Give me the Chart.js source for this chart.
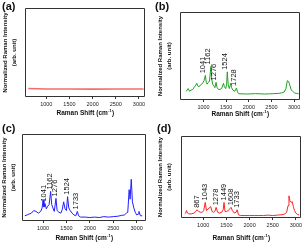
<!DOCTYPE html>
<html><head><meta charset="utf-8">
<script src="https://cdn.jsdelivr.net/npm/chart.js@4"></script>
<style>
body{margin:0;background:#fff;width:306px;height:243px;overflow:hidden;position:relative}
canvas{position:absolute}
</style></head><body>
<canvas id="ca" width="153" height="121" style="left:0;top:0"></canvas>
<canvas id="cb" width="153" height="121" style="left:153px;top:0"></canvas>
<canvas id="cc" width="153" height="122" style="left:0;top:121px"></canvas>
<canvas id="cd" width="153" height="122" style="left:153px;top:121px"></canvas>
<script>
// ---- data ----
const tickValues = [1000, 1500, 2000, 2500, 3000];

const aShift = [610, 1000, 1500, 2000, 2500, 3100];
const aIntensity = [0.095, 0.09, 0.09, 0.088, 0.09, 0.09];

const bShift = [610,640,660,690,720,760,800,830,850,870,900,930,960,990,1010,1041,1060,1080,1100,1130,1162,1180,1200,1230,1250,1276,1300,1330,1360,1400,1440,1460,1490,1510,1524,1545,1570,1600,1620,1650,1690,1728,1750,1780,1850,1950,2050,2150,2250,2350,2450,2550,2650,2720,2780,2820,2850,2880,2910,2940,2970,3010,3060,3100];
const bIntensity = [.10,.11,.13,.10,.11,.12,.15,.17,.19,.16,.15,.17,.18,.20,.22,.28,.20,.18,.20,.21,.38,.24,.18,.16,.14,.20,.14,.12,.12,.13,.19,.15,.13,.18,.32,.17,.13,.19,.14,.11,.10,.137,.09,.07,.07,.068,.07,.072,.07,.068,.07,.072,.075,.08,.09,.13,.22,.21,.16,.11,.10,.08,.075,.07];
const bPeaks = ['1041','1162','1276','1524','1728'];

const cShift = [610,660,700,750,800,850,900,950,980,1000,1020,1041,1070,1100,1130,1162,1185,1210,1240,1276,1300,1340,1380,1410,1440,1470,1500,1524,1550,1580,1620,1660,1700,1733,1760,1800,1900,2000,2100,2200,2300,2400,2500,2600,2680,2740,2780,2810,2840,2860,2885,2910,2940,2970,3000,3030,3050,3080,3120];
const cIntensity = [.06,.07,.08,.09,.12,.11,.09,.11,.15,.24,.16,.20,.14,.17,.19,.34,.19,.15,.11,.26,.12,.10,.09,.13,.22,.14,.12,.28,.15,.12,.09,.07,.06,.11,.06,.045,.045,.04,.045,.04,.05,.045,.05,.055,.065,.07,.09,.10,.36,.25,.48,.22,.15,.10,.07,.08,.11,.06,.06];
const cPeaks = ['1041','1162','1276','1524','1733'];

const dShift = [600,620,640,660,690,740,800,840,867,900,940,980,1010,1043,1070,1100,1130,1160,1190,1220,1250,1278,1310,1350,1400,1430,1449,1470,1500,1540,1570,1600,1630,1670,1710,1733,1760,1800,1900,2000,2100,2200,2300,2400,2500,2600,2700,2760,2800,2830,2850,2870,2895,2920,2945,2970,3000,3040,3070];
const dIntensity = [.05,.06,.09,.06,.05,.05,.06,.08,.10,.08,.07,.07,.09,.19,.09,.11,.12,.14,.08,.07,.08,.13,.07,.06,.07,.10,.19,.08,.08,.09,.11,.13,.09,.06,.07,.10,.04,.03,.03,.03,.03,.03,.03,.035,.03,.035,.04,.05,.07,.15,.27,.21,.19,.20,.14,.09,.06,.04,.04];
const dPeaks = ['867','1043','1278','1449','1608','1733'];

const FONT = '"Liberation Sans", Arial, sans-serif';

const deco = {
  id: 'deco',
  afterDraw(chart, args, o) {
    const {ctx, chartArea: a, scales} = chart;
    const xs = scales.x, ys = scales.y;
    ctx.save();
    // peak labels
    ctx.fillStyle = '#111';
    ctx.font = '7.5px ' + FONT;
    ctx.textAlign = 'left';
    ctx.textBaseline = 'middle';
    const ds = chart.data.datasets[0].data;
    (o.peaks || []).forEach(p => {
      const v = parseInt(p, 10);
      let m = 0;
      ds.forEach(d => { if (Math.abs(d.x - v) <= 30 && d.y > m) m = d.y; });
      const px = xs.getPixelForValue(v) + (o.dx || 0);
      const py = ys.getPixelForValue(m) - 2;
      ctx.save();
      ctx.translate(px, py);
      ctx.rotate(-Math.PI / 2);
      ctx.fillText(p, 0, 0);
      ctx.restore();
    });
    // box
    ctx.strokeStyle = '#333';
    ctx.lineWidth = 1;
    const L = Math.round(a.left) + 0.5, T = Math.round(a.top) + 0.5;
    const R = Math.round(a.right) - 0.5, B = Math.round(a.bottom) - 0.5;
    ctx.beginPath();
    ctx.moveTo(L, T); ctx.lineTo(R, T); ctx.lineTo(R, B); ctx.lineTo(L, B); ctx.closePath();
    ctx.stroke();
    // panel letter
    ctx.fillStyle = '#111';
    ctx.font = 'bold 11px ' + FONT;
    ctx.textBaseline = 'top';
    ctx.textAlign = 'left';
    ctx.fillText(o.letter, o.lx, o.ly);
    // x title
    ctx.textBaseline = 'middle';
    const t1 = 'Raman Shift (cm', t3 = ')';
    ctx.font = 'bold 4px ' + FONT;
    const w2 = ctx.measureText('-1').width;
    ctx.font = 'bold 6.5px ' + FONT;
    const w1 = ctx.measureText(t1).width, w3 = ctx.measureText(t3).width;
    const cx = (a.left + a.right) / 2;
    let sx = cx - (w1 + w2 + w3) / 2;
    ctx.fillText(t1, sx, o.xty);
    ctx.font = 'bold 4px ' + FONT;
    ctx.fillText('-1', sx + w1 + 0.3, o.xty - 2.5);
    ctx.font = 'bold 6.5px ' + FONT;
    ctx.fillText(t3, sx + w1 + w2 + 0.6, o.xty);
    // y title
    ctx.save();
    ctx.translate(0, (a.top + a.bottom) / 2);
    ctx.rotate(-Math.PI / 2);
    ctx.textAlign = 'center';
    ctx.font = 'bold 6px ' + FONT;
    ctx.fillText('Normalized Raman Intensity', 0, o.y1);
    ctx.fillText('(arb. unit)', 0, o.y2);
    ctx.restore();
    ctx.restore();
  }
};

function pts(xs, ys) { return xs.map((x, i) => ({x: x, y: ys[i]})); }

function make(id, data, color, bw, L) {
  const c = document.getElementById(id);
  const W = c.width, H = c.height;
  new Chart(c, {
    type: 'line',
    data: { datasets: [{ data: data, borderColor: color, borderWidth: bw, pointRadius: 0, tension: 0, fill: false }] },
    options: {
      responsive: false, animation: false, devicePixelRatio: 1,
      layout: { padding: { top: L.top, right: W - L.right, left: 0, bottom: 0 } },
      plugins: { legend: { display: false }, tooltip: { enabled: false },
        deco: { letter: L.letter, lx: L.lx, ly: L.ly, xty: L.xty, y1: L.y1, y2: L.y2, peaks: L.peaks, dx: L.dx } },
      scales: {
        x: {
          type: 'linear', min: L.xmin, max: L.xmax,
          afterBuildTicks: s => { s.ticks = tickValues.map(v => ({value: v})); },
          afterFit: s => { s.height = H - L.bottom; },
          grid: { drawOnChartArea: false, drawTicks: true, tickLength: 2, color: '#333' },
          border: { display: false },
          ticks: { font: { size: 5.5, family: FONT }, color: '#222', padding: L.tp, maxRotation: 0, autoSkip: false,
                   callback: v => String(v) }
        },
        y: {
          min: 0, max: 1,
          afterFit: s => { s.width = L.left; },
          grid: { display: false }, border: { display: false },
          ticks: { display: false }
        }
      }
    },
    plugins: [deco]
  });
}

make('ca', pts(aShift, aIntensity), '#f26d6d', 1.6,
  {top: 8, right: 145, bottom: 97, left: 25, xmin: 540, xmax: 3130, letter: '(a)', lx: 2, ly: 1, xty: 113, y1: 5, y2: 14, tp: 2, peaks: [], dx: 0});
make('cb', pts(bShift, bIntensity), '#22a022', 1,
  {top: 12, right: 147, bottom: 100, left: 27, xmin: 480, xmax: 3130, letter: '(b)', lx: 2, ly: 1, xty: 114, y1: 7, y2: 16, tp: 2, peaks: bPeaks, dx: -2.5});
make('cc', pts(cShift, cIntensity), '#1f1fff', 1,
  {top: 13, right: 146, bottom: 100, left: 22, xmin: 550, xmax: 3200, letter: '(c)', lx: 2, ly: 2, xty: 117, y1: 4, y2: 13, tp: 2, peaks: cPeaks, dx: -1});
make('cd', pts(dShift, dIntensity), '#ff2424', 1,
  {top: 15, right: 148, bottom: 97, left: 28, xmin: 520, xmax: 3110, letter: '(d)', lx: 4, ly: 2, xty: 117, y1: 7, y2: 16, tp: 2, peaks: dPeaks, dx: 0});
</script>
</body></html>
